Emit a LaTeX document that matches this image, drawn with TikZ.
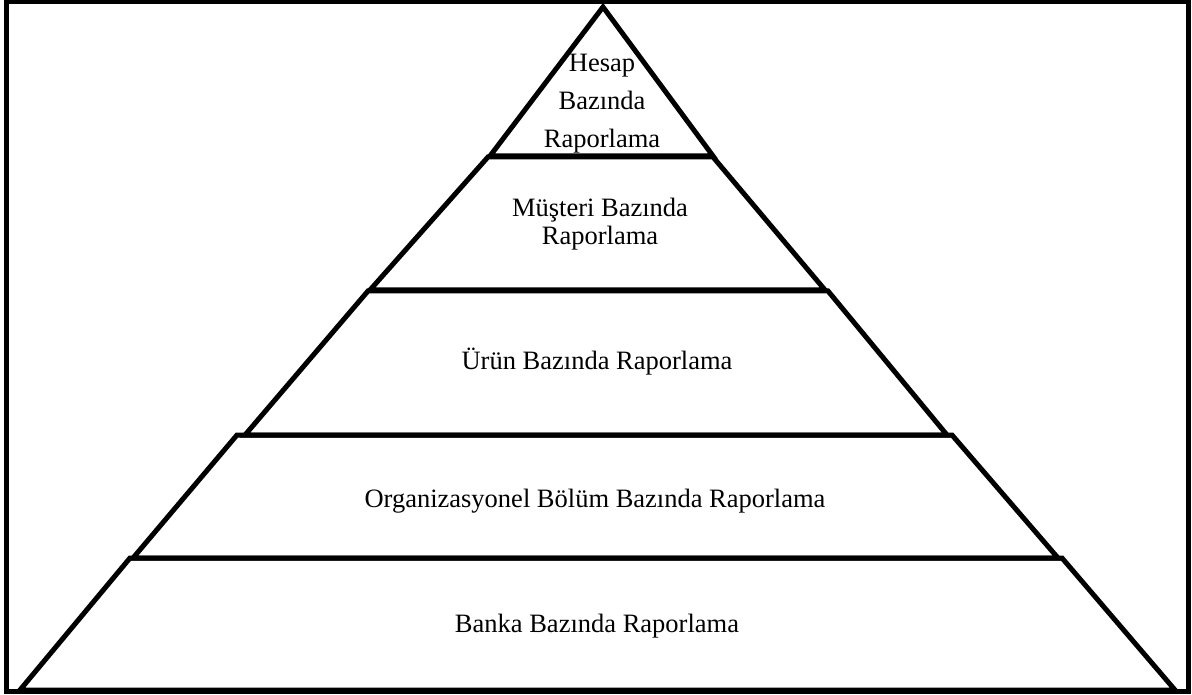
\documentclass[tikz,border=0pt]{standalone}
\usepackage{fontspec}
\setmainfont{Liberation Serif}
\begin{document}
\begin{tikzpicture}[x=1pt,y=-1pt,
  frame/.style={draw=black,line width=5pt},
  tier/.style={draw=black,line width=5pt,line join=miter},
  lbl/.style={font=\fontsize{26.5}{30}\selectfont,anchor=base,inner sep=0pt}]
\useasboundingbox (0,0) rectangle (1192,695);
% outer frame
\draw[frame] (6,2) rectangle (1188,691);
% pyramid tiers, top to bottom
\coordinate (apex) at (603,7);
\draw[tier] (apex) -- (713,156) -- (490,156) -- cycle;
\draw[tier] (488,157) -- (713,157) -- (825,290) -- (370,290) -- cycle;
\draw[tier] (368,291) -- (828,291) -- (947,435) -- (245,435) -- cycle;
\draw[tier] (237,435) -- (952,435) -- (1058,558) -- (133,558) -- cycle;
\draw[tier] (130,558) -- (1062,558) -- (1175,690) -- (20,690) -- cycle;
% labels
\node[lbl] (h1) at (602,72) {Hesap};
\node[lbl] (h2) at (602,110) {Bazında};
\node[lbl] (h3) at (602,148) {Raporlama};
\node[lbl] (m1) at (600,217) {Müşteri Bazında};
\node[lbl] (m2) at (600,245) {Raporlama};
\node[lbl] (u1) at (597,369) {Ürün Bazında Raporlama};
\node[lbl] (o1) at (595,507) {Organizasyonel Bölüm Bazında Raporlama};
\node[lbl] (b1) at (597,632) {Banka Bazında Raporlama};
\end{tikzpicture}
\end{document}
